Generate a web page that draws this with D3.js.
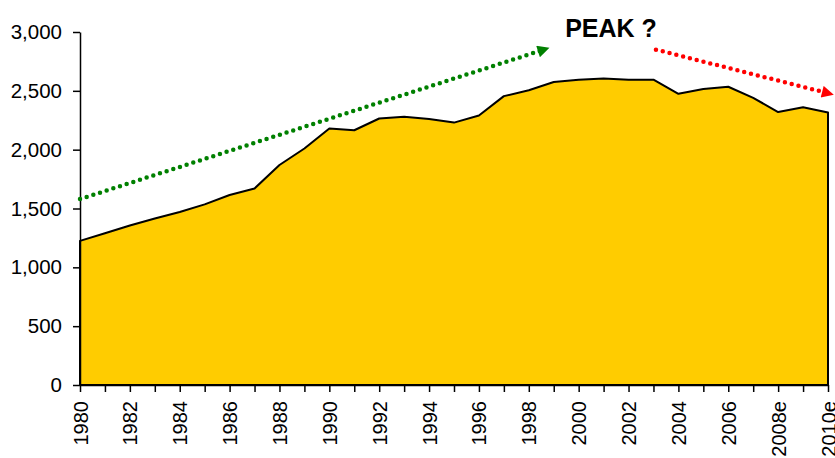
<!DOCTYPE html>
<html>
<head>
<meta charset="utf-8">
<script src="https://cdn.jsdelivr.net/npm/d3@7"></script>
<style>
  body { margin: 0; background: #fff; }
  svg { display: block; }
  text { font-family: "Liberation Sans", Arial, sans-serif; fill: #000; }
  .axis path, .axis line { stroke: #000; stroke-width: 1.5px; }
</style>
</head>
<body>
<svg width="835" height="458"></svg>
<script>
// data
var years = [1980, 1981, 1982, 1983, 1984, 1985, 1986, 1987, 1988, 1989,
             1990, 1991, 1992, 1993, 1994, 1995, 1996, 1997, 1998, 1999,
             2000, 2001, 2002, 2003, 2004, 2005, 2006, 2007, 2008, 2009, 2010];
var values = [1225, 1290, 1355, 1415, 1470, 1535, 1615, 1670, 1870, 2010,
              2180, 2165, 2265, 2280, 2260, 2230, 2290, 2455, 2505, 2575,
              2595, 2605, 2595, 2595, 2475, 2515, 2535, 2440, 2320, 2360, 2315];
var tickLabels = ["1980", "1982", "1984", "1986", "1988", "1990", "1992", "1994",
                  "1996", "1998", "2000", "2002", "2004", "2006", "2008e", "2010e"];
var yTicks = [0, 500, 1000, 1500, 2000, 2500, 3000];
var upTrend = [[1980, 1580], [1998.6, 2850]];
var downTrend = [[2003.1, 2850], [2010, 2480]];
var title = "PEAK ?";

var svg = d3.select("svg");
var margin = {left: 80, top: 32, right: 7, bottom: 73};
var width = 835 - margin.left - margin.right;
var height = 458 - margin.top - margin.bottom;

var x = d3.scaleLinear().domain([1980, 2010]).range([margin.left, margin.left + width]);
var y = d3.scaleLinear().domain([0, 3000]).range([margin.top + height, margin.top]);

var defs = svg.append("defs");
function arrowHead(id, color) {
  defs.append("marker")
      .attr("id", id)
      .attr("viewBox", "0 0 10 10")
      .attr("refX", 5).attr("refY", 5)
      .attr("markerUnits", "userSpaceOnUse")
      .attr("markerWidth", 15).attr("markerHeight", 12)
      .attr("orient", "auto")
    .append("path")
      .attr("d", "M0,0 L10,5 L0,10 Z")
      .attr("fill", color);
}
arrowHead("head-green", "#008000");
arrowHead("head-red", "#ff0000");

var rows = years.map(function(yr, i) { return {year: yr, value: values[i]}; });

var area = d3.area()
    .x(function(d) { return x(d.year); })
    .y0(y(0))
    .y1(function(d) { return y(d.value); });

svg.append("path")
    .datum(rows)
    .attr("d", area)
    .attr("fill", "#ffcc00")
    .attr("stroke", "#000")
    .attr("stroke-width", 2)
    .attr("stroke-linejoin", "round");

// axes
var yAxis = d3.axisLeft(y)
    .tickValues(yTicks)
    .tickFormat(d3.format(","))
    .tickSize(7)
    .tickPadding(11)
    .tickSizeOuter(0);

var gy = svg.append("g")
    .attr("class", "axis")
    .attr("transform", "translate(" + margin.left + ",0)")
    .call(yAxis);
gy.selectAll("text").attr("font-size", 20.5).attr("font-family", null);

var xAxis = d3.axisBottom(x)
    .tickValues(years)
    .tickFormat(function(d) {
      var i = years.indexOf(d);
      return i % 2 === 0 ? tickLabels[i / 2] : "";
    })
    .tickSize(7)
    .tickSizeOuter(0);

var gx = svg.append("g")
    .attr("class", "axis")
    .attr("transform", "translate(0," + y(0) + ")")
    .call(xAxis);
gx.selectAll("text")
    .attr("font-size", 20)
    .attr("font-family", null)
    .attr("text-anchor", "end")
    .attr("transform", "rotate(-90)")
    .attr("x", -16)
    .attr("y", 0)
    .attr("dy", "0.35em");

// trend arrows
function trend(pts, color, head) {
  svg.append("line")
      .attr("x1", x(pts[0][0])).attr("y1", y(pts[0][1]))
      .attr("x2", x(pts[1][0])).attr("y2", y(pts[1][1]))
      .attr("stroke", color)
      .attr("stroke-width", 4.5)
      .attr("stroke-linecap", "round")
      .attr("stroke-dasharray", "0 7")
      .attr("marker-end", "url(#" + head + ")");
}
trend(upTrend, "#008000", "head-green");
trend(downTrend, "#ff0000", "head-red");

svg.append("text")
    .attr("x", 611)
    .attr("y", 37)
    .attr("text-anchor", "middle")
    .attr("font-size", 25)
    .attr("font-weight", "bold")
    .text(title);
</script>
</body>
</html>
